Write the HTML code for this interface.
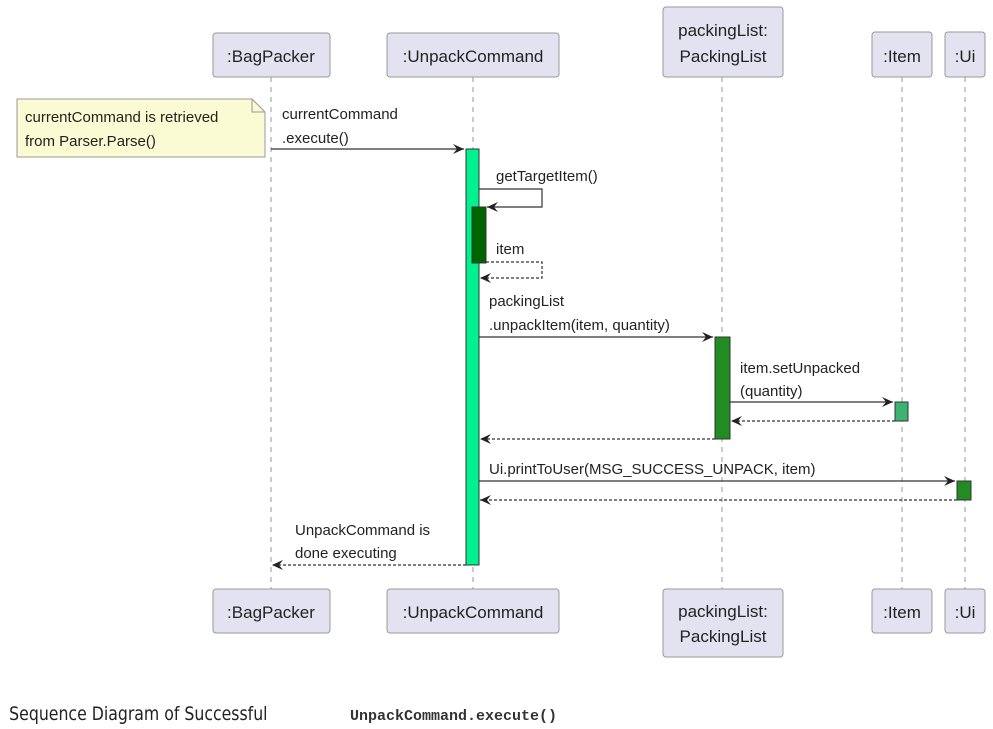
<!DOCTYPE html>
<html><head><meta charset="utf-8"><style>
html,body{margin:0;padding:0;background:#fff;width:993px;height:729px;overflow:hidden}
svg{display:block}
text{font-family:"Liberation Sans",sans-serif;fill:#222}
</style></head><body>
<svg width="993" height="729" viewBox="0 0 993 729" xmlns="http://www.w3.org/2000/svg">
<defs>
<marker id="a" markerWidth="12" markerHeight="10" refX="11" refY="5" orient="auto" markerUnits="userSpaceOnUse">
<path d="M0,0 L11,5 L0,10 L4,5 Z" fill="#222"/></marker>
</defs>
<g stroke="#999" stroke-width="1" stroke-dasharray="5,5">
<line x1="271" y1="77" x2="271" y2="589"/>
<line x1="473" y1="77" x2="473" y2="589"/>
<line x1="722" y1="77" x2="722" y2="589"/>
<line x1="902" y1="77" x2="902" y2="589"/>
<line x1="965" y1="77" x2="965" y2="589"/>
</g>
<g fill="#e2e2f0" stroke="#999" stroke-width="1">
<rect x="213" y="33" width="117" height="44" rx="3"/>
<rect x="387" y="33" width="172" height="44" rx="3"/>
<rect x="663" y="7" width="120" height="70" rx="3"/>
<rect x="872" y="32" width="60" height="45" rx="3"/>
<rect x="945" y="32" width="40" height="45" rx="3"/>
<rect x="213" y="589" width="117" height="44" rx="3"/>
<rect x="387" y="589" width="172" height="44" rx="3"/>
<rect x="663" y="589" width="120" height="68" rx="3"/>
<rect x="872" y="589" width="60" height="44" rx="3"/>
<rect x="945" y="589" width="40" height="44" rx="3"/>
</g>
<g font-size="17" text-anchor="middle">
<text x="271" y="62">:BagPacker</text>
<text x="473" y="62">:UnpackCommand</text>
<text x="723" y="36">packingList:</text>
<text x="723" y="62">PackingList</text>
<text x="902" y="62">:Item</text>
<text x="965" y="62">:Ui</text>
<text x="271" y="618">:BagPacker</text>
<text x="473" y="618">:UnpackCommand</text>
<text x="723" y="617">packingList:</text>
<text x="723" y="642">PackingList</text>
<text x="902" y="618">:Item</text>
<text x="965" y="618">:Ui</text>
</g>
<path d="M17,99 L252,99 L265,112 L265,157 L17,157 Z" fill="#fbfbd3" stroke="#999"/>
<path d="M252,99 L252,112 L265,112" fill="none" stroke="#999"/>
<g font-size="15">
<text x="25" y="122">currentCommand is retrieved</text>
<text x="25" y="146">from Parser.Parse()</text>
</g>
<rect x="466" y="149" width="13" height="416" fill="#00f28f" stroke="#333"/>
<rect x="472" y="207" width="14" height="56" fill="#006400" stroke="#333"/>
<rect x="715" y="337" width="15" height="102" fill="#228b22" stroke="#333"/>
<rect x="895" y="402" width="13" height="19" fill="#3cb371" stroke="#333"/>
<rect x="957" y="481" width="14" height="19" fill="#228b22" stroke="#333"/>
<g stroke="#333" stroke-width="1.2" fill="none">
<line x1="271" y1="149" x2="464" y2="149" marker-end="url(#a)"/>
<polyline points="479,189 542,189 542,207 487,207" marker-end="url(#a)"/>
<polyline points="486,262 542,262 542,278 480,278" stroke-dasharray="3,2" marker-end="url(#a)"/>
<line x1="479" y1="337" x2="713" y2="337" marker-end="url(#a)"/>
<line x1="730" y1="402" x2="893" y2="402" marker-end="url(#a)"/>
<line x1="895" y1="421" x2="731" y2="421" stroke-dasharray="3,2" marker-end="url(#a)"/>
<line x1="715" y1="439" x2="480" y2="439" stroke-dasharray="3,2" marker-end="url(#a)"/>
<line x1="479" y1="481" x2="955" y2="481" marker-end="url(#a)"/>
<line x1="957" y1="500" x2="480" y2="500" stroke-dasharray="3,2" marker-end="url(#a)"/>
<line x1="466" y1="565" x2="272" y2="565" stroke-dasharray="3,2" marker-end="url(#a)"/>
</g>
<g font-size="15">
<text x="282" y="119">currentCommand</text>
<text x="282" y="143">.execute()</text>
<text x="496" y="181">getTargetItem()</text>
<text x="496" y="254">item</text>
<text x="489" y="306">packingList</text>
<text x="489" y="330">.unpackItem(item, quantity)</text>
<text x="740" y="373">item.setUnpacked</text>
<text x="740" y="396">(quantity)</text>
<text x="489" y="474">Ui.printToUser(MSG_SUCCESS_UNPACK, item)</text>
<text x="295" y="535">UnpackCommand is</text>
<text x="295" y="558">done executing</text>
</g>
<text x="10" y="720" font-size="19" fill="#333" transform="scale(0.92,1)" style="font-family:'DejaVu Sans Condensed','Liberation Sans Narrow','Liberation Sans',sans-serif">Sequence Diagram of Successful</text>
<text x="350" y="720" font-size="15" font-weight="bold" style="font-family:'Liberation Mono',monospace;fill:#333">UnpackCommand.execute()</text>
</svg>
</body></html>
